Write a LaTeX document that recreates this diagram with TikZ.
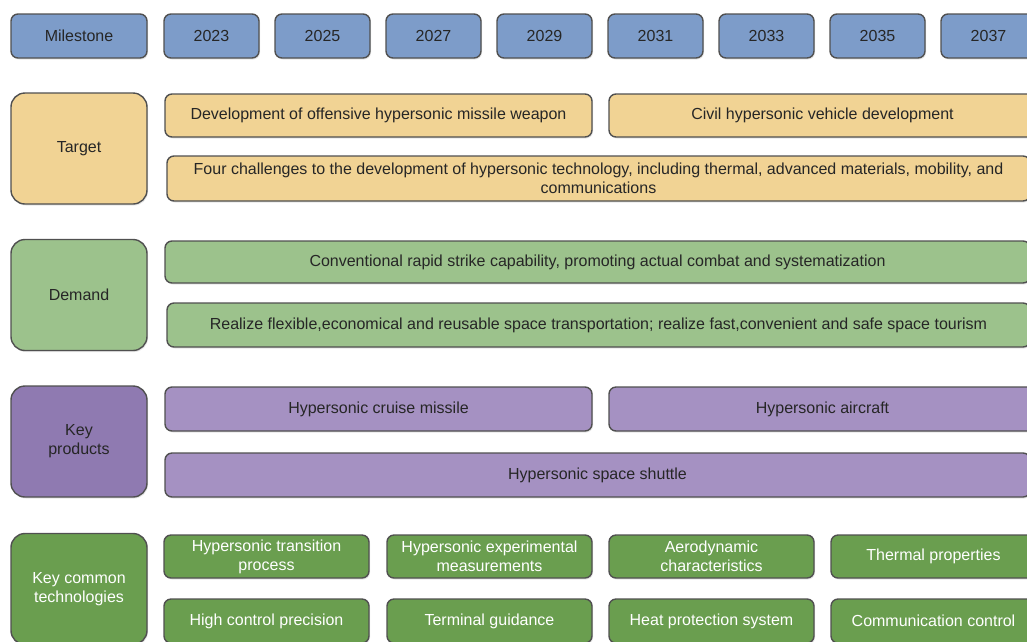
\documentclass[tikz,border=0pt]{standalone}
\usepackage{fontspec}
\setmainfont{Liberation Sans}
\usetikzlibrary{shadows}

\definecolor{edgegray}{HTML}{505050}
\definecolor{mileblue}{HTML}{7D9CC9}
\definecolor{targettan}{HTML}{F1D394}
\definecolor{demandgreen}{HTML}{9CC28C}
\definecolor{prodpurple}{HTML}{8F7AB1}
\definecolor{itempurple}{HTML}{A591C2}
\definecolor{techgreen}{HTML}{6A9E4F}

\begin{document}
\begin{tikzpicture}[x=1pt, y=-1pt,
  box/.style={draw=edgegray, line width=1.4pt, rounded corners=7pt, inner sep=2pt,
    align=center, text=black!85, font=\fontsize{16}{19}\selectfont,
    drop shadow={opacity=0.2, shadow xshift=1pt, shadow yshift=-1.5pt}},
  milebox/.style={box, fill=mileblue, minimum width=95pt, minimum height=44pt},
  bigbox/.style={box, rounded corners=14pt, minimum width=136pt, minimum height=111pt},
  techbox/.style={box, fill=techgreen, text=white, minimum width=205pt, minimum height=43pt}]
  \useasboundingbox (0,0) rectangle (1027,641);
  \clip (0,0) rectangle (1027,641);

  % 里程碑
  \node[milebox, minimum width=136pt] (mile) at (79,36) {Milestone};
  \foreach \yr [count=\i from 0] in {2023,2025,2027,2029,2031,2033,2035,2037}
    \node[milebox] (y\yr) at (211.5+111*\i,36) {\yr};

  % 目标
  \node[bigbox, fill=targettan] (target) at (79,148.5) {Target};
  \node[box, fill=targettan, minimum width=427pt, minimum height=43pt] (tweapon) at (378.5,115.5)
    {Development of offensive hypersonic missile weapon};
  \node[box, fill=targettan, minimum width=427pt, minimum height=43pt] (tcivil) at (822.5,115.5)
    {Civil hypersonic vehicle development};
  \node[box, fill=targettan, minimum width=863pt, minimum height=45pt] (tfour) at (598.5,178.5)
    {Four challenges to the development of hypersonic technology, including thermal, advanced materials, mobility, and\\communications};

  % 需求
  \node[bigbox, fill=demandgreen] (demand) at (79,295) {Demand};
  \node[box, fill=demandgreen, minimum width=865pt, minimum height=42pt] (dstrike) at (597.5,262)
    {Conventional rapid strike capability, promoting actual combat and systematization};
  \node[box, fill=demandgreen, minimum width=863pt, minimum height=44pt] (dspace) at (598.5,325)
    {Realize flexible,economical and reusable space transportation; realize fast,convenient and safe space tourism};

  % 关键产品
  \node[bigbox, fill=prodpurple] (products) at (79,441.5) {Key\\products};
  \node[box, fill=itempurple, minimum width=427pt, minimum height=44pt] (pcruise) at (378.5,409)
    {Hypersonic cruise missile};
  \node[box, fill=itempurple, minimum width=427pt, minimum height=44pt] (pcraft) at (822.5,409)
    {Hypersonic aircraft};
  \node[box, fill=itempurple, minimum width=865pt, minimum height=44pt] (pshuttle) at (597.5,475)
    {Hypersonic space shuttle};

  % 关键共性技术
  \node[bigbox, fill=techgreen, text=white] (common) at (79,589) {Key common\\technologies};
  \node[techbox] (ctrans) at (266.5,556.5) {Hypersonic transition\\process};
  \node[techbox] (cmeas) at (489.5,556.5) {Hypersonic experimental\\measurements};
  \node[techbox] (caero) at (711.5,556.5) {Aerodynamic\\characteristics};
  \node[techbox] (ctherm) at (933.5,556.5) {Thermal properties};
  \node[techbox, minimum height=44pt] (cprec) at (266.5,621) {High control precision};
  \node[techbox, minimum height=44pt] (cguide) at (489.5,621) {Terminal guidance};
  \node[techbox, minimum height=44pt] (cheat) at (711.5,621) {Heat protection system};
  \node[techbox, minimum height=44pt] (ccomm) at (933.5,621) {Communication control};
\end{tikzpicture}
\end{document}
